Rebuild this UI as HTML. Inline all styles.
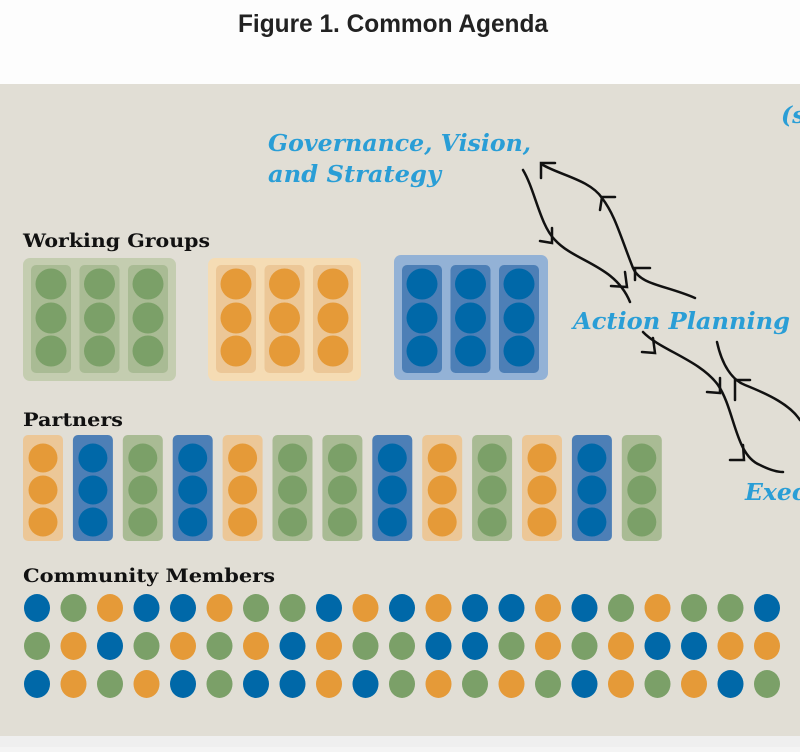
<!DOCTYPE html>
<html><head><meta charset="utf-8"><style>
body{margin:0;width:800px;height:747px;overflow:hidden;background:#f4f4f4;font-family:"Liberation Sans",sans-serif}
</style></head><body>
<svg width="800" height="747" xmlns="http://www.w3.org/2000/svg">
<rect x="0" y="0" width="800" height="84" fill="#fdfdfd"/>
<rect x="0" y="84" width="800" height="652" fill="#e1ded5"/>
<rect x="0" y="736" width="800" height="11" fill="#efefef"/>
<text x="393" y="32" text-anchor="middle" font-family="Liberation Sans,sans-serif" font-weight="bold" font-size="25" fill="#222" textLength="310" lengthAdjust="spacingAndGlyphs">Figure 1. Common Agenda</text>
<g font-family="DejaVu Serif,Liberation Serif,serif" font-weight="bold" fill="#111" font-size="19">
<text x="23" y="247" textLength="187" lengthAdjust="spacingAndGlyphs">Working Groups</text>
<text x="23" y="426" textLength="100" lengthAdjust="spacingAndGlyphs">Partners</text>
<text x="23" y="582" textLength="252" lengthAdjust="spacingAndGlyphs">Community Members</text>
</g>
<g font-family="DejaVu Serif,Liberation Serif,serif" font-weight="bold" font-style="italic" fill="#2a9ed6" font-size="23.5">
<text x="268" y="151" textLength="263" lengthAdjust="spacingAndGlyphs">Governance, Vision,</text>
<text x="268" y="182" textLength="173" lengthAdjust="spacingAndGlyphs">and Strategy</text>
<text x="573" y="329" textLength="217" lengthAdjust="spacingAndGlyphs">Action Planning</text>
<text x="745" y="500">Exec</text>
<text x="781" y="123">(s</text>
</g>
<rect x="23" y="258" width="153" height="123" rx="7" fill="#c4cdb0"/>
<rect x="208" y="258" width="153" height="123" rx="7" fill="#f5dcb4"/>
<rect x="394" y="255" width="154" height="125" rx="7" fill="#93b2d6"/>
<g id="wg"></g>
<g id="gen"></g>
<g fill="none" stroke="#111" stroke-width="2.5" stroke-linecap="round">
<path d="M523 170 C535 190 540 225 555 240 C575 262 615 265 630 302"/>
<path d="M695 298 C665 285 640 285 633 268 C620 235 615 215 602 198 C590 180 560 175 543 165"/>
<path d="M643 332 C660 350 700 360 718 385 C735 410 735 455 760 465 C770 470 778 472 783 472"/>
<path d="M717 342 C722 365 732 380 745 385 C770 395 790 405 800 420"/>
<path d="M541 178 L541 163 L555 163"/>
<path d="M600 210 L602 197 L615 197"/>
<path d="M635 280 L635 268 L650 268"/>
<path d="M552 228 L552 243 L540 241"/>
<path d="M625 272 L627 287 L611 286"/>
<path d="M653 338 L655 353 L642 352"/>
<path d="M720 378 L720 393 L707 392"/>
<path d="M735 400 L735 380 L750 380"/>
<path d="M743 445 L744 460 L730 460"/>
</g>
</svg>
<script>
const C={B:'#0068a8',G:'#7ba068',O:'#e59a38'};
const L={B:'#4d7fb6',G:'#a9bb94',O:'#ecc797'};
const ns='http://www.w3.org/2000/svg';
function el(p,t,a){const e=document.createElementNS(ns,t);for(const k in a)e.setAttribute(k,a[k]);p.appendChild(e);}
const wg=document.getElementById('wg');
[[31,'G'],[216,'O'],[402,'B']].forEach(([x0,c])=>{for(let i=0;i<3;i++){const x=x0+i*48.5;el(wg,'rect',{x:x,y:265,width:40,height:108,rx:5,fill:L[c]});[284,318,351].forEach(y=>el(wg,'circle',{cx:x+20,cy:y,r:15.5,fill:C[c]}));}});
const g=document.getElementById('gen');
'OBGBOGGBOGOBG'.split('').forEach((c,i)=>{const x=23+i*49.9;el(g,'rect',{x:x,y:435,width:40,height:106,rx:5,fill:L[c]});[458,490,522].forEach(y=>el(g,'circle',{cx:x+20,cy:y,r:14.5,fill:C[c]}));});
['BGOBBOGGBOBOBBOBGOGGB','GOBGOGOBOGGBBGOGOBBOO','BOGOBGBBOBGOGOGBOGOBG'].forEach((r,j)=>r.split('').forEach((c,i)=>el(g,'ellipse',{cx:37+i*36.5,cy:608+j*38,rx:13,ry:14,fill:C[c]})));
</script>
</body></html>
